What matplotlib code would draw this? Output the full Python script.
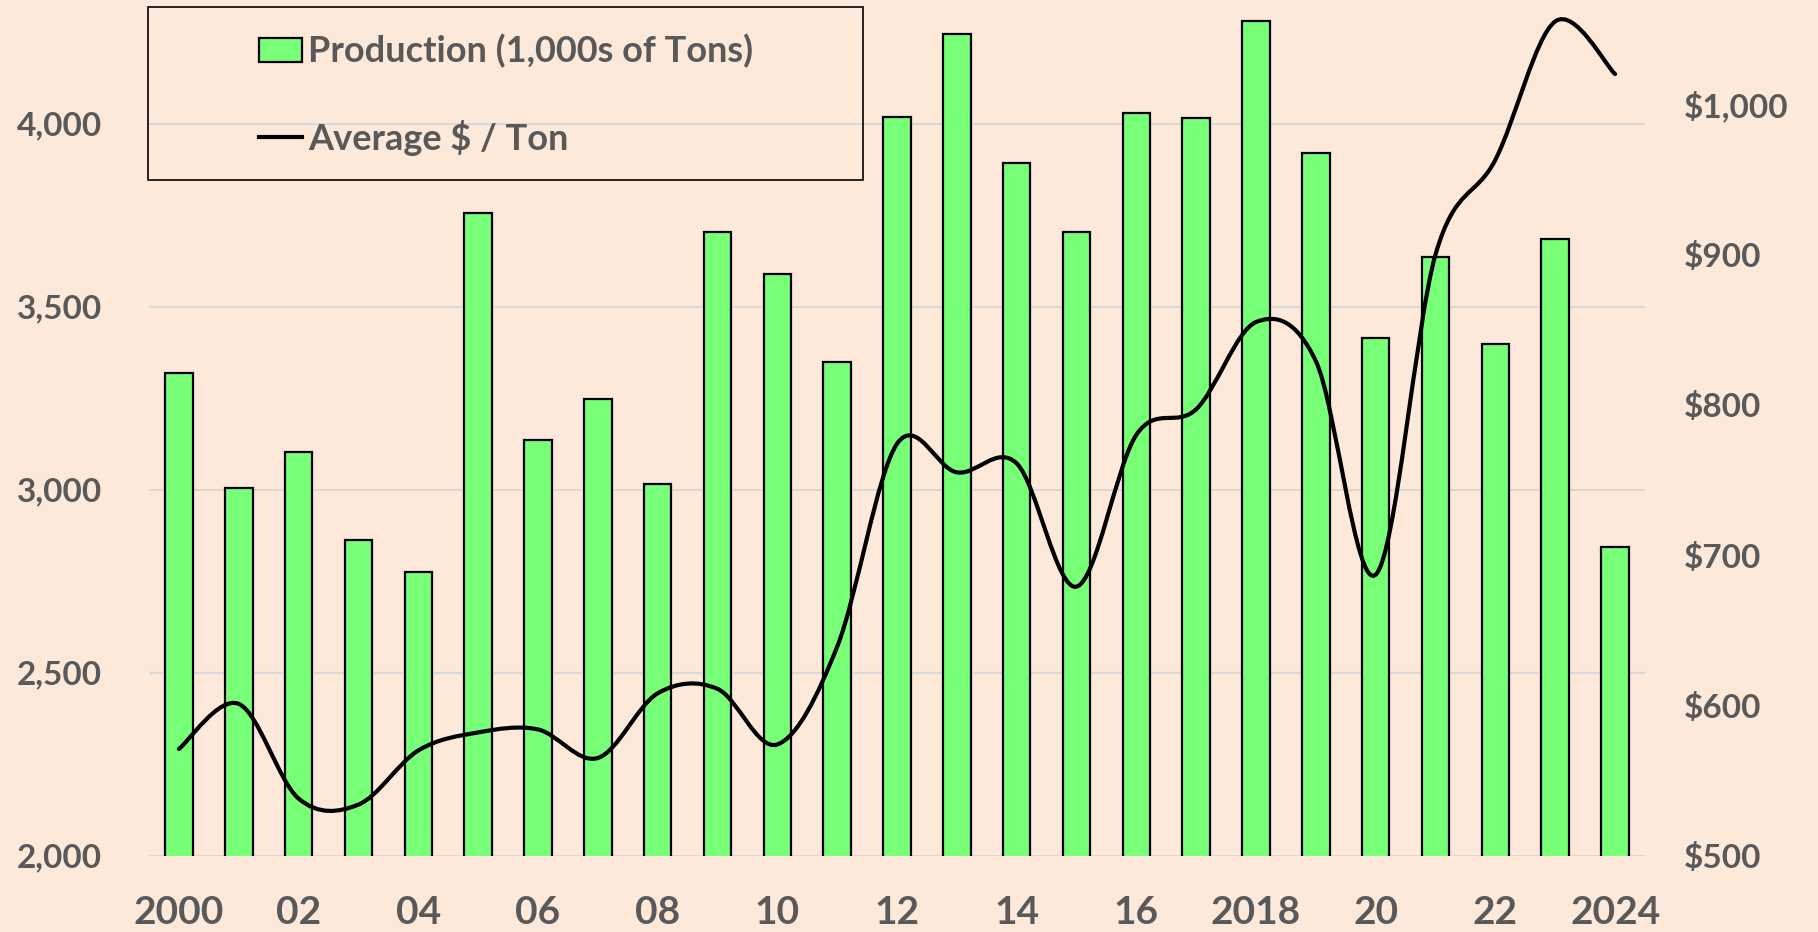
import numpy as np
import matplotlib.pyplot as plt
from matplotlib.path import Path
from matplotlib.patches import PathPatch, Rectangle
from matplotlib.lines import Line2D
from matplotlib.ticker import StrMethodFormatter

# ---- data ----
years = list(range(2000, 2025))
production = [3318, 3005, 3104, 2863, 2775, 3755, 3136, 3248, 3015, 3703,
              3588, 3348, 4017, 4245, 3892, 3705, 4029, 4015, 4281, 3919,
              3414, 3635, 3397, 3684, 2843]
avg_price = [571, 601, 538, 534, 570, 582, 584, 565, 608, 611,
             574, 639, 774, 755, 761, 679, 780, 797, 855, 829,
             687, 900, 963, 1055, 1020]
tick_labels = ["2000", "02", "04", "06", "08", "10", "12",
               "14", "16", "2018", "20", "22", "2024"]

BG = "#FDE9DA"
GREEN = "#77FF77"
GREY = "#595959"
FONT = "Lato"

plt.rcParams["font.family"] = [FONT, "DejaVu Sans"]
plt.rcParams["font.weight"] = "bold"

fig = plt.figure(figsize=(18.18, 9.32), dpi=100, facecolor=BG)
ax = fig.add_axes([149 / 1818, 1 - 855.7 / 932, (1645 - 149) / 1818, (855.7 - 13.9) / 932])
ax.set_facecolor(BG)

x = np.arange(len(years))
ax.bar(x, production, width=0.46, bottom=0, color=GREEN, edgecolor="black",
       linewidth=1.6, zorder=2)
ax.set_ylim(2000, 4300)
ax.set_xlim(-0.5, len(years) - 0.5)
ax.set_yticks(np.arange(2000, 4001, 500))
ax.yaxis.set_major_formatter(StrMethodFormatter("{x:,.0f}"))
ax.grid(axis="y", color="#D9D9D9", linewidth=1.5, zorder=0)
ax.set_axisbelow(True)

tick_pos = [i for i, y in enumerate(years) if y % 2 == 0]
ax.set_xticks(tick_pos)
ax.set_xticklabels(tick_labels)
ax.tick_params(axis="x", length=0, pad=28, labelsize=28, labelcolor=GREY)
ax.tick_params(axis="y", length=0, pad=34, labelsize=24, labelcolor=GREY)
for s in ax.spines.values():
    s.set_visible(False)

# ---- price line on the secondary axis (smoothed like Excel) ----
ax2 = ax.twinx()
ax2.set_ylim(500, 1060)
ax2.set_yticks(np.arange(500, 1001, 100))
ax2.yaxis.set_major_formatter(StrMethodFormatter("${x:,.0f}"))
ax2.tick_params(axis="y", length=0, pad=28, labelsize=24, labelcolor=GREY)
for s in ax2.spines.values():
    s.set_visible(False)
ax2.patch.set_visible(False)

pts = np.column_stack([x, avg_price]).astype(float)
verts = [pts[0]]
codes = [Path.MOVETO]
n = len(pts)
for i in range(n - 1):
    p_prev = pts[i - 1] if i > 0 else pts[i]
    p_next2 = pts[i + 2] if i + 2 < n else pts[i + 1]
    c1 = pts[i] + (pts[i + 1] - p_prev) / 6
    c2 = pts[i + 1] - (p_next2 - pts[i]) / 6
    verts += [c1, c2, pts[i + 1]]
    codes += [Path.CURVE4] * 3
ax2.add_patch(PathPatch(Path(verts, codes), fill=False, edgecolor="black",
                        linewidth=3, zorder=3, capstyle="round"))

# ---- legend ----
handles = [Rectangle((0, 0), 1, 1, facecolor=GREEN, edgecolor="black", linewidth=1.6),
           Line2D([0], [0], color="black", linewidth=3)]
labels = ["Production (1,000s of Tons)", "Average $ / Ton"]
leg = fig.legend(handles, labels, loc="upper left",
                 bbox_to_anchor=(259 / 1818, 1 - 34 / 932),
                 frameon=False, borderpad=0, borderaxespad=0,
                 handlelength=1.2, handleheight=0.65,
                 handletextpad=0.15, labelspacing=1.42,
                 prop={"family": [FONT, "DejaVu Sans"], "weight": "bold", "size": 26})
for t in leg.get_texts():
    t.set_color(GREY)
fig.patches.append(Rectangle((148 / 1818, 1 - 180 / 932), (863 - 148) / 1818, 173 / 932,
                             transform=fig.transFigure, fill=False,
                             edgecolor="black", linewidth=1.2))

fig.savefig("out.png", dpi=100, facecolor=BG)
